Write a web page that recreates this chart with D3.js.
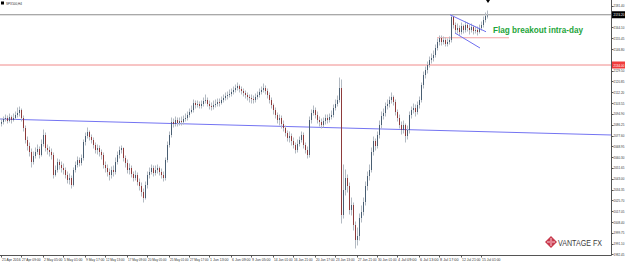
<!DOCTYPE html>
<html><head><meta charset="utf-8">
<script src="https://cdn.jsdelivr.net/npm/d3@7"></script>
<style>html,body{margin:0;padding:0;background:#fff;overflow:hidden}</style>
</head><body><svg id="c" width="625" height="262"></svg>
<script>
// ---- DATA (SPX500, H4) ----
const firstOpen = 2087.0;
const closes = [
2088.4,2090.8,2091.6,2089.2,2092.4,2090.0,2091.6,2094.0,2095.6,2098.0,
2091.6,2083.6,2074.0,2069.2,2064.4,2056.4,2061.2,2064.4,2066.8,2062.0,
2070.8,2078.0,2067.6,2066.0,2064.4,2062.0,2046.0,2050.0,2056.4,2054.0,
2051.6,2050.0,2046.0,2042.0,2043.6,2038.0,2050.0,2054.0,2058.0,2055.6,
2059.6,2072.4,2077.2,2080.4,2076.4,2074.0,2070.0,2066.0,2067.6,2064.4,
2062.0,2054.0,2051.6,2048.4,2046.0,2050.0,2048.4,2056.4,2062.0,2066.0,
2067.6,2059.6,2055.6,2050.0,2051.6,2046.8,2043.6,2046.0,2040.4,2037.2,
2032.4,2027.6,2038.0,2046.0,2048.4,2051.6,2047.6,2050.0,2051.6,2048.4,
2046.0,2043.6,2058.0,2070.0,2078.0,2088.4,2086.8,2090.0,2087.6,2089.2,
2088.4,2090.8,2091.6,2094.0,2096.4,2098.0,2103.6,2102.0,2102.8,2101.2,
2102.8,2105.2,2106.0,2102.8,2101.2,2100.4,2102.0,2102.8,2104.4,2103.6,
2106.0,2107.6,2109.2,2110.0,2110.8,2112.4,2114.0,2115.6,2117.2,2114.8,
2113.2,2111.6,2110.0,2108.4,2107.6,2106.8,2106.0,2108.4,2110.0,2112.4,
2114.0,2115.6,2113.2,2110.0,2106.0,2102.0,2098.0,2094.0,2090.0,2091.6,
2086.8,2083.6,2079.6,2075.6,2077.2,2073.2,2070.0,2066.0,2070.8,2074.0,
2078.0,2070.0,2066.0,2062.0,2090.0,2095.6,2098.0,2094.0,2090.0,2088.4,
2086.0,2089.2,2091.6,2090.0,2092.4,2094.0,2099.6,2102.8,2106.0,2115.6,
2014.0,2034.0,2043.6,2037.2,2018.0,2022.0,2006.0,1994.0,1997.2,2011.6,
2016.4,2024.4,2037.2,2045.2,2050.0,2064.4,2073.2,2069.2,2078.0,2086.0,
2093.2,2095.6,2101.2,2102.8,2106.0,2108.4,2104.4,2096.4,2091.6,2086.0,
2082.0,2086.0,2077.2,2082.0,2094.0,2098.0,2099.6,2096.4,2102.0,2106.0,
2118.0,2126.0,2130.0,2134.0,2138.0,2139.6,2142.0,2147.6,2152.4,2155.6,
2152.4,2154.0,2150.8,2152.4,2154.0,2172.4,2166.0,2162.0,2163.6,2160.4,
2165.2,2162.0,2166.0,2163.6,2162.0,2164.4,2161.2,2162.0,2160.4,2163.6,
2166.0,2170.0,2173.2,2173.6];
const highs = [
2090.8,2092.4,2094.0,2093.2,2094.8,2093.2,2094.8,2096.4,2099.6,2100.4,
2098.8,2093.2,2085.2,2076.4,2071.6,2066.8,2064.4,2067.6,2070.0,2068.4,
2074.0,2082.0,2079.6,2070.0,2068.4,2066.8,2063.6,2053.2,2058.8,2058.0,
2056.4,2054.8,2051.6,2048.4,2046.8,2045.2,2051.6,2056.4,2060.4,2059.6,
2062.0,2074.0,2079.6,2083.6,2081.2,2078.0,2075.6,2071.6,2070.0,2069.2,
2066.0,2063.6,2056.4,2054.0,2050.8,2052.4,2053.2,2059.6,2064.4,2068.4,
2069.2,2067.6,2061.2,2058.0,2054.8,2053.2,2048.4,2049.2,2047.6,2042.8,
2039.6,2034.8,2040.4,2048.4,2051.6,2054.0,2053.2,2053.2,2054.0,2052.4,
2050.8,2048.4,2059.6,2072.4,2080.4,2091.6,2090.8,2092.4,2091.6,2091.6,
2092.4,2093.2,2094.8,2096.4,2098.8,2101.2,2106.0,2105.2,2105.2,2104.4,
2105.2,2107.6,2110.0,2107.6,2105.2,2103.6,2105.2,2106.0,2106.8,2106.8,
2108.4,2110.0,2111.6,2112.4,2114.0,2114.8,2116.4,2118.0,2119.6,2118.0,
2116.4,2114.8,2113.2,2111.6,2110.0,2110.0,2109.2,2110.8,2112.4,2114.8,
2116.4,2118.8,2117.2,2114.8,2111.6,2107.6,2102.8,2099.6,2095.6,2094.0,
2093.2,2089.2,2085.2,2081.2,2080.4,2078.8,2075.6,2071.6,2074.0,2076.4,
2080.4,2079.6,2071.6,2068.4,2092.4,2098.0,2101.2,2099.6,2096.4,2092.4,
2090.8,2091.6,2094.0,2094.0,2094.8,2097.2,2102.0,2106.0,2109.2,2123.6,
2122.0,2054.0,2050.0,2046.0,2039.6,2027.6,2023.6,2008.4,2003.6,2014.8,
2021.2,2027.6,2040.4,2048.4,2054.0,2067.6,2076.4,2074.8,2080.4,2089.2,
2096.4,2098.8,2103.6,2106.0,2108.4,2111.6,2109.2,2106.0,2098.0,2094.0,
2088.4,2089.2,2086.8,2085.2,2096.4,2100.4,2102.8,2102.0,2104.4,2108.4,
2119.6,2128.4,2132.4,2136.4,2140.4,2142.8,2145.2,2150.0,2154.8,2157.2,
2157.2,2156.4,2155.6,2154.8,2156.4,2174.2,2173.0,2167.6,2166.8,2165.2,
2167.6,2166.0,2168.4,2167.6,2166.0,2166.8,2165.2,2164.4,2164.4,2166.0,
2168.4,2172.4,2175.6,2177.2];
const lows = [
2085.2,2086.8,2089.2,2087.6,2088.4,2087.6,2089.2,2090.8,2092.4,2093.2,
2089.2,2081.2,2071.6,2066.0,2061.2,2052.4,2054.8,2059.6,2062.8,2059.6,
2061.2,2069.2,2065.2,2062.8,2061.2,2058.8,2043.6,2045.2,2048.4,2050.8,
2048.4,2046.8,2043.6,2039.6,2038.8,2035.6,2037.2,2048.4,2052.4,2053.2,
2054.0,2058.0,2070.0,2075.6,2074.0,2071.6,2067.6,2063.6,2062.8,2061.2,
2058.8,2051.6,2048.4,2045.2,2042.0,2043.6,2045.2,2046.8,2054.8,2059.6,
2063.6,2057.2,2052.4,2047.6,2046.8,2044.4,2041.2,2042.0,2038.0,2034.0,
2029.2,2024.4,2026.8,2035.6,2043.6,2046.8,2045.2,2046.0,2047.6,2046.0,
2043.6,2041.2,2042.0,2056.4,2068.4,2076.4,2084.4,2085.2,2085.2,2086.0,
2086.0,2086.8,2089.2,2090.0,2092.4,2095.6,2096.4,2099.6,2100.4,2099.6,
2099.6,2101.2,2103.6,2101.2,2098.8,2098.0,2098.8,2100.4,2101.2,2101.2,
2102.8,2104.4,2106.0,2106.8,2108.4,2109.2,2110.8,2112.4,2114.0,2112.4,
2110.8,2109.2,2107.6,2106.0,2104.4,2103.6,2103.6,2104.4,2106.8,2108.4,
2110.8,2112.4,2110.8,2107.6,2103.6,2099.6,2094.8,2091.6,2087.6,2086.0,
2083.6,2081.2,2077.2,2073.2,2072.4,2070.0,2067.6,2063.6,2064.4,2069.2,
2072.4,2067.6,2063.6,2059.6,2060.4,2087.6,2094.0,2091.6,2087.6,2085.2,
2083.6,2084.4,2086.8,2087.6,2088.4,2090.8,2092.4,2098.0,2101.2,2104.4,
2007.6,2011.6,2030.0,2032.4,2014.8,2014.0,2002.0,1987.6,1990.0,1994.0,
2008.4,2014.0,2022.0,2034.0,2042.0,2048.4,2062.0,2066.0,2067.6,2075.6,
2083.6,2090.8,2093.2,2098.8,2100.4,2103.6,2102.0,2094.0,2089.2,2083.6,
2078.8,2079.6,2072.4,2074.8,2079.6,2091.6,2095.6,2093.2,2094.8,2099.6,
2104.4,2115.6,2123.6,2127.6,2132.4,2135.6,2137.2,2140.4,2146.0,2150.0,
2150.0,2150.8,2149.2,2149.2,2150.8,2152.4,2163.6,2159.6,2159.6,2158.0,
2158.8,2159.6,2160.4,2161.2,2158.8,2160.4,2158.8,2159.6,2158.0,2159.6,
2162.0,2164.4,2168.4,2171.6];

const priceTicks = ["2181.40","2164.10","2155.45","2146.80","2129.50","2120.85","2112.20","2103.55","2094.90","2086.25","2077.60","2068.95","2060.30","2051.65","2043.00","2034.35","2025.70","2017.05","2008.40","1999.75","1991.10","1982.45"];
const timeLabels = ["21 Apr 2016","27 Apr 09:00","2 May 05:00","5 May 01:00","9 May 17:00","12 May 13:00","17 May 09:00","20 May 05:00","25 May 01:00","27 May 17:00","1 Jun 13:00","6 Jun 09:00","9 Jun 05:00","14 Jun 01:00","16 Jun 21:00","20 Jun 17:00","23 Jun 13:00","27 Jun 21:00","30 Jun 01:00","4 Jul 09:00","6 Jul 13:00","8 Jul 17:00","12 Jul 21:00","15 Jul 01:00"];
const timeLabelBars = [0,10,21,31,42,52,63,73,84,94,104,115,125,136,146,157,167,178,188,198,209,219,230,240];

const resistanceLevel = 2174.2;   // grey line, black tag
const breakoutLevel = 2134.0;     // red line, red tag
const trendLine = [[-0.5, 2090.8], [305.5, 2078.0]];
const flagUpper = [[224.5, 2174.2], [242.5, 2160.6]];
const flagLower = [[227, 2159.6], [239.5, 2147.6]];
const flagBase = [[218, 2155.8], [254, 2155.8]];
const annotation = "Flag breakout intra-day";
const symbolTitle = "SPX500,H4";

// ---- DRAW ----
const svg = d3.select("#c");
const plotR = 611, plotB = 255;
const FONT = "Liberation Sans, Arial, sans-serif";
const x = d3.scaleLinear().domain([-0.5, 305.5]).range([0, 612]);
const y = d3.scaleLinear().domain([2186, 1982]).range([0, plotB]);

// shrink a text's font until it fits a width
function fit(sel, maxW) {
  const n = sel.node();
  let fs = +sel.attr("font-size");
  const len = n.getComputedTextLength();
  if (len > maxW) sel.attr("font-size", (fs * maxW / len).toFixed(2));
  return sel;
}

const data = closes.map((c, i) => ({
  i, o: i === 0 ? firstOpen : closes[i - 1], h: highs[i], l: lows[i], c
}));

const g = svg.append("g");
g.append("line").attr("x1", 0).attr("x2", plotR).attr("y1", y(resistanceLevel)).attr("y2", y(resistanceLevel))
  .attr("stroke", "#8c8c8c").attr("stroke-width", 1.2);
g.append("line").attr("x1", 0).attr("x2", plotR).attr("y1", y(breakoutLevel)).attr("y2", y(breakoutLevel))
  .attr("stroke", "#f08a8a").attr("stroke-width", 1);

const line = d3.line().x(d => x(d[0])).y(d => y(d[1]));
g.append("path").attr("d", line(trendLine)).attr("stroke", "#7474f2").attr("stroke-width", 1).attr("fill", "none");
g.append("path").attr("d", line(flagBase)).attr("stroke", "#f4a4a4").attr("stroke-width", 1).attr("fill", "none");

const cg = g.append("g");
data.forEach(d => {
  const cx = Math.round(x(d.i)) + 0.5;
  const bull = d.c >= d.o;
  cg.append("line").attr("x1", cx).attr("x2", cx).attr("y1", y(d.h) - 0.5).attr("y2", y(d.l) + 0.5)
    .attr("stroke", "#b3bac2").attr("stroke-width", 1);
  const top = y(Math.max(d.o, d.c)), bot = y(Math.min(d.o, d.c));
  cg.append("rect").attr("x", cx - 0.5).attr("width", 1)
    .attr("y", top).attr("height", Math.max(1, bot - top))
    .attr("fill", bull ? "#4a5f73" : "#8e3b3b");
});

g.append("path").attr("d", line(flagUpper)).attr("stroke", "#6f6ff0").attr("stroke-width", 1).attr("fill", "none");
g.append("path").attr("d", line(flagLower)).attr("stroke", "#6f6ff0").attr("stroke-width", 1).attr("fill", "none");

g.append("path").attr("d", `M${x(243)-1},0 L${x(243)+3},0 L${x(243)+1},3 Z`).attr("fill", "#000");

g.append("text").attr("x", 493).attr("y", 33.2).text(annotation)
  .attr("font-family", FONT).attr("font-weight", "bold")
  .attr("font-size", 9.4).attr("fill", "#1ea53a")
  .attr("textLength", 90).attr("lengthAdjust", "spacingAndGlyphs");

g.append("rect").attr("x", 1).attr("y", 1.5).attr("width", 3).attr("height", 3).attr("fill", "#000");
fit(g.append("text").attr("x", 6).attr("y", 5).text(symbolTitle)
  .attr("font-family", FONT).attr("font-size", 4.2).attr("fill", "#333"), 16);

const lg = g.append("g").attr("transform", "translate(551,242)");
lg.append("path").attr("d", "M0,-6 L6,0 L0,6 L-6,0 Z").attr("fill", "#c8394c");
lg.append("path").attr("d", "M0,-4 L0,4 M-4,0 L4,0").attr("stroke", "#fff").attr("stroke-width", 0.8);
lg.append("path").attr("d", "M0,-2.5 L2.5,0 L0,2.5 L-2.5,0 Z").attr("fill", "#e58090");
g.append("text").attr("x", 558).attr("y", 246).text("VANTAGE FX")
  .attr("font-family", FONT).attr("font-size", 9)
  .attr("fill", "#3c3c3c").attr("textLength", 44).attr("lengthAdjust", "spacingAndGlyphs");

svg.append("line").attr("x1", plotR + 0.5).attr("x2", plotR + 0.5).attr("y1", 0).attr("y2", plotB + 0.5)
  .attr("stroke", "#555").attr("stroke-width", 1);
svg.append("line").attr("x1", 0).attr("x2", plotR + 0.5).attr("y1", plotB + 0.5).attr("y2", plotB + 0.5)
  .attr("stroke", "#555").attr("stroke-width", 1);

const ya = svg.append("g");
priceTicks.forEach(t => {
  const yy = y(+t);
  ya.append("line").attr("x1", plotR + 0.5).attr("x2", plotR + 2.5).attr("y1", Math.round(yy) + 0.5).attr("y2", Math.round(yy) + 0.5)
    .attr("stroke", "#555");
  fit(ya.append("text").attr("x", 613.5).attr("y", yy + 1.5).text(t)
    .attr("font-family", FONT).attr("font-size", 3.8).attr("fill", "#333"), 10.8);
});
function tag(v, fill) {
  const yy = y(v);
  ya.append("rect").attr("x", plotR + 1).attr("y", yy - 3.5).attr("width", 14).attr("height", 7).attr("fill", fill);
  fit(ya.append("text").attr("x", 613.5).attr("y", yy + 1.5).text(v.toFixed(2))
    .attr("font-family", FONT).attr("font-size", 3.8).attr("fill", "#fff"), 10.8);
}
tag(resistanceLevel, "#000");
tag(breakoutLevel, "#f03c3c");

const xa = svg.append("g");
timeLabels.forEach((t, k) => {
  const xx = Math.round(x(timeLabelBars[k])) + 0.5;
  xa.append("line").attr("x1", xx).attr("x2", xx).attr("y1", plotB + 0.5).attr("y2", plotB + 2.5).attr("stroke", "#555");
  fit(xa.append("text").attr("x", xx + 0.5).attr("y", 260.5).text(t)
    .attr("font-family", FONT).attr("font-size", 3.9).attr("fill", "#333"), 18.5);
});
</script>
</body></html>
